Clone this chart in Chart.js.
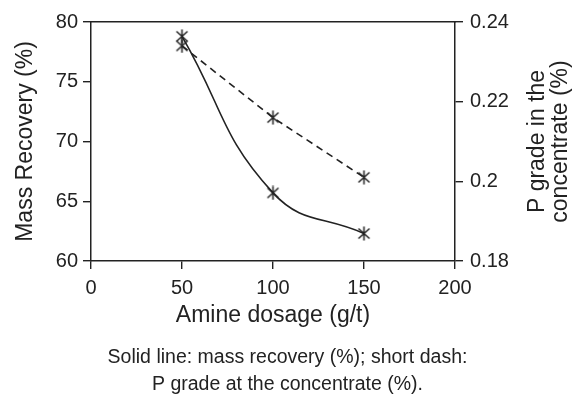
<!DOCTYPE html>
<html>
<head>
<meta charset="utf-8">
<script src="https://cdn.jsdelivr.net/npm/chart.js@4"></script>
<style>
  html, body { margin: 0; padding: 0; background: #fff; overflow: hidden; }
  canvas { display: block; }
</style>
</head>
<body>
<canvas id="dosageChart" width="575" height="399"></canvas>
<script>
const dosage = [50, 100, 150];
const massRecovery = [78.8, 65.7, 62.3];
const pGrade = [0.234, 0.216, 0.201];
const xTicks = [0, 50, 100, 150, 200];
const leftTicks = [60, 65, 70, 75, 80];
const rightTicks = ["0.18", "0.2", "0.22", "0.24"];
const caption = ["Solid line: mass recovery (%); short dash:", "P grade at the concentrate (%)."];

const ink = "#222";
const family = "'Liberation Sans', Arial, sans-serif";
Chart.defaults.font.family = family;
Chart.defaults.color = ink;

// six-armed asterisk marker, like the original plot
function makeStar() {
  const c = document.createElement("canvas");
  c.width = 15;
  c.height = 15;
  const g = c.getContext("2d");
  g.strokeStyle = ink;
  g.lineWidth = 1.5;
  g.beginPath();
  g.moveTo(2, 2.5); g.lineTo(13, 12.5);
  g.moveTo(13, 2.5); g.lineTo(2, 12.5);
  g.moveTo(7.5, 0.5); g.lineTo(7.5, 14.5);
  g.stroke();
  return c;
}
const star = makeStar();

// right axis title reads bottom-to-top, chart.js would rotate it the other way
const rightTitle = {
  id: "rightTitle",
  afterDraw(chart) {
    const { ctx, chartArea } = chart;
    const cy = (chartArea.top + chartArea.bottom) / 2;
    ctx.save();
    ctx.fillStyle = ink;
    ctx.font = "23px " + family;
    ctx.textAlign = "center";
    ctx.textBaseline = "middle";
    [["P grade in the", 83], ["concentrate (%)", 106]].forEach(([t, dx]) => {
      ctx.save();
      ctx.translate(chartArea.right + dx, cy);
      ctx.rotate(-Math.PI / 2);
      ctx.fillText(t, 0, 0);
      ctx.restore();
    });
    ctx.restore();
  },
};

const gridOpts = {
  drawOnChartArea: false,
  drawTicks: true,
  tickLength: 8,
  color: ink,
  lineWidth: 1.4,
};
const borderOpts = { color: ink, width: 1.5 };

new Chart(document.getElementById("dosageChart"), {
  type: "line",
  data: {
    datasets: [
      {
        label: "Mass recovery (%)",
        data: dosage.map((x, i) => ({ x, y: massRecovery[i] })),
        yAxisID: "y",
        borderColor: ink,
        borderWidth: 1.6,
        tension: 0.45,
        pointStyle: star,
        fill: false,
      },
      {
        label: "P grade (%)",
        data: dosage.map((x, i) => ({ x, y: pGrade[i] })),
        yAxisID: "y2",
        borderColor: ink,
        borderWidth: 1.6,
        borderDash: [7, 5],
        tension: 0,
        pointStyle: star,
        fill: false,
      },
    ],
  },
  options: {
    responsive: false,
    devicePixelRatio: 1,
    animation: false,
    layout: { padding: { top: 22, left: 0, right: 0, bottom: 0 } },
    scales: {
      x: {
        type: "linear",
        position: "bottom",
        min: 0,
        max: 200,
        afterBuildTicks: (s) => { s.ticks = xTicks.map((v) => ({ value: v })); },
        afterFit: (s) => { s.height = 83; },
        ticks: { font: { size: 20 }, padding: 7, maxRotation: 0 },
        grid: gridOpts,
        border: borderOpts,
        title: {
          display: true,
          text: "Amine dosage (g/t)",
          font: { size: 23 },
          padding: { top: 0, bottom: 15 },
        },
      },
      xTop: {
        axis: "x",
        type: "linear",
        position: "top",
        min: 0,
        max: 200,
        afterFit: (s) => { s.height = 0; },
        ticks: { display: false },
        grid: { drawOnChartArea: false, drawTicks: false },
        border: borderOpts,
      },
      y: {
        position: "left",
        min: 60,
        max: 80,
        afterBuildTicks: (s) => { s.ticks = leftTicks.map((v) => ({ value: v })); },
        afterFit: (s) => { s.width = 91; },
        ticks: { font: { size: 20 }, padding: 5 },
        grid: gridOpts,
        border: borderOpts,
        title: {
          display: true,
          text: "Mass Recovery (%)",
          font: { size: 23 },
          padding: { top: 12, bottom: 0 },
        },
      },
      y2: {
        position: "right",
        min: 0.18,
        max: 0.24,
        afterBuildTicks: (s) => { s.ticks = rightTicks.map((v) => ({ value: parseFloat(v) })); },
        afterFit: (s) => { s.width = 120; },
        ticks: {
          font: { size: 20 },
          padding: 7,
          callback: (v, i) => rightTicks[i],
        },
        grid: gridOpts,
        border: borderOpts,
      },
    },
    plugins: {
      legend: { display: false },
      tooltip: { enabled: false },
      title: {
        display: true,
        position: "bottom",
        text: caption,
        color: ink,
        font: { size: 19.5, weight: "normal", lineHeight: 27 / 19.5 },
        padding: { top: 0, bottom: 1 },
      },
    },
  },
  plugins: [rightTitle],
});
</script>
</body>
</html>
